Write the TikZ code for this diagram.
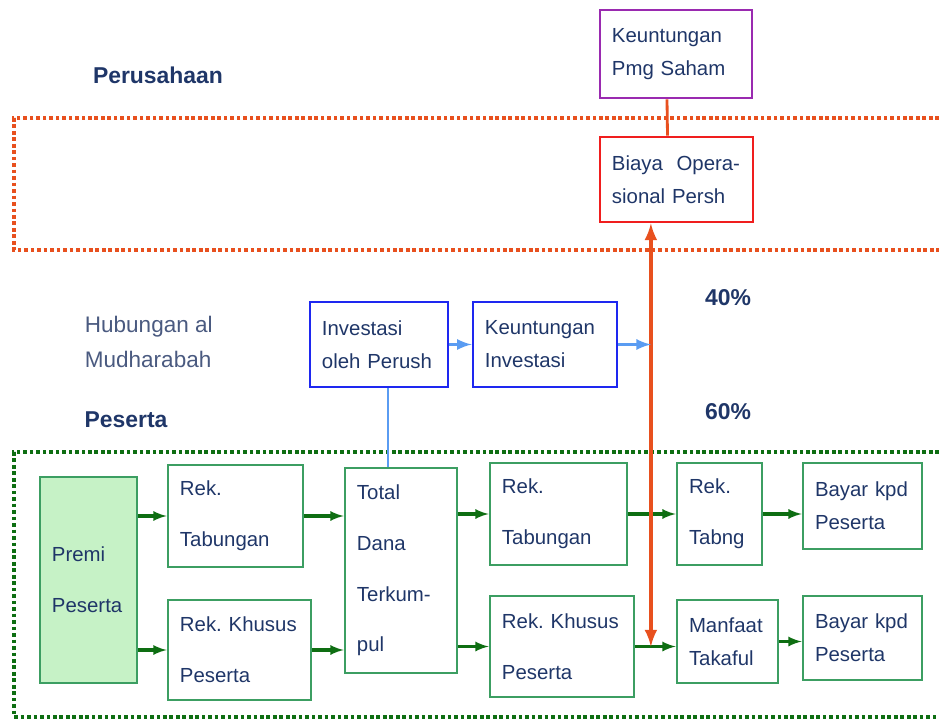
\documentclass[tikz,border=0pt]{standalone}
\usepackage{fontspec}
\setmainfont{Liberation Sans}
\usepackage{tikz}
\usepackage{xcolor}
\definecolor{teks}{HTML}{1F3668}
\definecolor{hijau}{HTML}{3C9E62}
\definecolor{hijaugelap}{HTML}{0E6E12}
\definecolor{hijaumuda}{HTML}{C6F2C6}
\definecolor{oranye}{HTML}{E8501E}
\definecolor{merah}{HTML}{F01E1E}
\definecolor{ungu}{HTML}{9A2AB0}
\definecolor{biru}{HTML}{1E28F0}
\definecolor{birumuda}{HTML}{5A9CF2}
\definecolor{abu}{HTML}{4A5A80}

\begin{document}
\begin{tikzpicture}[x=0.025cm,y=-0.025cm,>=latex,
  kotak/.style={draw,line width=2pt,align=left,inner xsep=0.3cm,text=teks,
    font=\fontsize{14.5}{23.5}\selectfont},
  lebar/.style={font=\fontsize{14.5}{36}\selectfont},
  gbox/.style={kotak,draw=hijau},
  panah/.style={->,draw=hijaugelap,line width=2.2pt},
  judul/.style={text=teks,font=\fontsize{16.3}{19}\selectfont\bfseries}]
\useasboundingbox (0,0) rectangle (939,720);

% daerah
\draw [oranye,dotted,line width=2.6pt] (939,118) -- (14,118) -- (14,250) -- (939,250);
\draw [hijaugelap,dotted,line width=2.6pt] (939,452) -- (14,452) -- (14,717) -- (939,717);

\node [judul] (perusahaan) at (158,75) {Perusahaan};
\node [judul] (peserta) at (126,420) {Peserta};
\node [judul] (empat) at (728,298) {40\%};
\node [judul] (enam) at (728,412) {60\%};
\node [align=left,anchor=west,text=abu,font=\fontsize{16}{25}\selectfont] (hub) at (80,342) {Hubungan al\\Mudharabah};

% perusahaan
\node [kotak,draw=ungu,text width=3.2cm,minimum height=2.2cm] (saham) at (676,54) {Keuntungan\\Pmg~Saham};
\node [kotak,draw=merah,text width=3.225cm,minimum height=2.125cm] (biaya) at (676.5,179.5) {Biaya\ \ Opera-\\sional~Persh};

% investasi
\node [kotak,draw=biru,text width=2.85cm,minimum height=2.125cm] (invest) at (379,344.5) {Investasi\\oleh~Perush};
\node [kotak,draw=biru,text width=3.0cm,minimum height=2.125cm] (untung) at (545,344.5) {Keuntungan\\Investasi};

% peserta
\node [gbox,fill=hijaumuda,lebar,text width=1.825cm,minimum height=5.15cm] (premi) at (88.5,580) {Premi\\Peserta};
\node [gbox,lebar,text width=2.775cm,minimum height=2.55cm] (tab1) at (235.5,516) {Rek.\\Tabungan};
\node [gbox,lebar,text width=2.975cm,minimum height=2.5cm] (khu1) at (239.5,650) {Rek.~Khusus\\Peserta};
\node [gbox,lebar,text width=2.2cm,minimum height=5.125cm] (total) at (401,570.5) {Total\\Dana\\Terkum-\\pul};
\node [gbox,lebar,text width=2.825cm,minimum height=2.55cm] (tab2) at (558.5,514) {Rek.\\Tabungan};
\node [gbox,lebar,text width=3.0cm,minimum height=2.525cm] (khu2) at (562,646.5) {Rek.~Khusus\\Peserta};
\node [gbox,lebar,text width=1.525cm,minimum height=2.55cm] (tabng) at (719.5,514) {Rek.\\Tabng};
\node [gbox,text width=1.925cm,minimum height=2.075cm] (manfaat) at (727.5,641.5) {Manfaat\\Takaful};
\node [gbox,text width=2.375cm,minimum height=2.15cm] (bayar1) at (862.5,506) {Bayar~kpd\\Peserta};
\node [gbox,text width=2.375cm,minimum height=2.1cm] (bayar2) at (862.5,638) {Bayar~kpd\\Peserta};

% aliran dana
\draw [panah] (premi.east |- tab1.west) -- (tab1.west);
\draw [panah] (premi.east |- khu1.west) -- (khu1.west);
\draw [panah] (tab1.east) -- (tab1.east -| total.west);
\draw [panah] (khu1.east) -- (khu1.east -| total.west);
\draw [panah] (total.east |- tab2.west) -- (tab2.west);
\draw [panah] (total.east |- khu2.west) -- (khu2.west);
\draw [panah] (tab2.east) -- (tabng.west);
\draw [panah] (khu2.east) -- (khu2.east -| manfaat.west);
\draw [panah] (tabng.east) -- (tabng.east -| bayar1.west);
\draw [panah] (manfaat.east) -- (manfaat.east -| bayar2.west);

% bagi hasil
\coordinate (pisah) at ([xshift=-0.64cm]biaya.south);
\draw [oranye,line width=2pt] ([xshift=-0.225cm]saham.south) -- ([xshift=-0.225cm]biaya.north);
\draw [<->,oranye,line width=3pt] (pisah) -- (pisah |- khu2.east);
\draw [->,birumuda,line width=2.5pt] (invest.east) -- (untung.west);
\draw [->,birumuda,line width=2.5pt] (untung.east) -- (untung.east -| pisah);
\draw [birumuda,line width=2pt] ([xshift=0.225cm]invest.south) -- ([xshift=0.225cm]invest.south |- total.north);
\end{tikzpicture}
\end{document}
